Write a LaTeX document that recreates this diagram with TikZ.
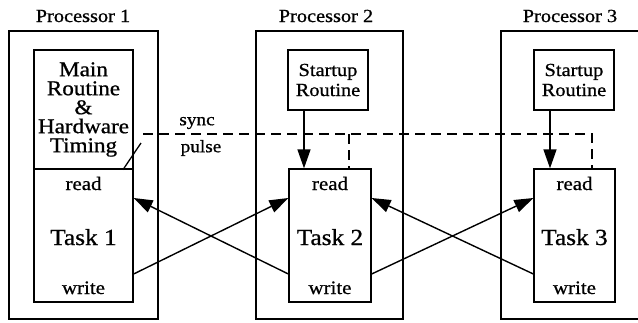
\documentclass[tikz,border=0pt]{standalone}
\usepackage{fontspec}
\setmainfont{Liberation Serif}[FakeStretch=1.1,FakeBold=0.8]
\usetikzlibrary{arrows.meta,calc}
\tikzset{
  box/.style={draw, line width=1.3pt, inner sep=0pt},
  lbl/.style={inner sep=0pt, font=\fontsize{18.5}{19}\selectfont},
  rw/.style={inner sep=0pt, anchor=base, font=\fontsize{19}{19}\selectfont},
  tsk/.style={inner sep=0pt, anchor=base, font=\fontsize{23}{23}\selectfont},
  arr/.style={line width=1.4pt, -{Triangle[length=19pt,width=13pt]}},
  syncline/.style={line width=1.4pt, dash pattern=on 10pt off 6pt},
}
\begin{document}
\begin{tikzpicture}[x=1pt,y=-1pt]
\useasboundingbox (0,0) rectangle (638,322);
\clip (0,0) rectangle (638,322);
% processor outlines
\node[box, minimum width=149pt, minimum height=288pt] (p1) at (83.5,175) {};
\node[box, minimum width=147pt, minimum height=288pt] (p2) at (329.5,175) {};
\node[box, minimum width=144pt, minimum height=288pt] (p3) at (573,175) {};
\node[lbl] (p1l) at (83,16) {Processor 1};
\node[lbl] (p2l) at (326,16) {Processor 2};
\node[lbl] (p3l) at (570,16) {Processor 3};
% main routine
\node[box, minimum width=99pt, minimum height=119pt, align=center,
      font=\fontsize{21}{19}\selectfont] (main) at (83.5,109.5)
      {Main\\Routine\\\&\\Hardware\\Timing};
% startup routines
\node[box, minimum width=80pt, minimum height=60pt, align=center,
      font=\fontsize{18.5}{20}\selectfont] (start2) at (328,80) {Startup\\Routine};
\node[box, minimum width=80pt, minimum height=60pt, align=center,
      font=\fontsize{18.5}{20}\selectfont] (start3) at (574,80) {Startup\\Routine};
% tasks
\node[box, minimum width=99pt, minimum height=133pt] (task1) at (83.5,235.5) {};
\node[box, minimum width=82pt, minimum height=133pt] (task2) at (330,235.5) {};
\node[box, minimum width=81pt, minimum height=133pt] (task3) at (574.5,235.5) {};
\foreach \t/\x/\n in {task1/83.5/1, task2/330/2, task3/574.5/3}{
  \node[rw] (\t r) at (\x,190) {read};
  \node[tsk] (\t n) at (\x,245) {Task \n};
  \node[rw] (\t w) at (\x,294) {write};
}
% startup arrows
\draw[arr] ([xshift=-24pt]start2.south) -- ([xshift=-24pt]start2.south |- task2.north);
\draw[arr] ([xshift=-24pt]start3.south) -- ([xshift=-24pt]start3.south |- task3.north);
% crossing arrows
\draw[arr] ([yshift=-38.5pt]task1.east) -- ([yshift=37.5pt]task2.west);
\draw[arr] ([yshift=-38.5pt]task2.west) -- ([yshift=37.5pt]task1.east);
\draw[arr] ([yshift=-38.5pt]task2.east) -- ([yshift=37.5pt]task3.west);
\draw[arr] ([yshift=-38.5pt]task3.west) -- ([yshift=37.5pt]task2.east);
% sync pulse
\coordinate (syncL) at (143,134);
\coordinate (T2) at ([xshift=19pt]task2.north);
\coordinate (T3) at ([xshift=17.5pt]task3.north);
\draw[syncline] (syncL) -- (syncL -| T3) -- (T3);
\draw[syncline] (T2 |- syncL) -- (T2);
\coordinate (diagA) at ([xshift=39.5pt]main.south);
\coordinate (diagB) at (141,143);
\draw[line width=1.3pt] (diagA) -- (diagB);
\node[inner sep=0pt, font=\fontsize{17.5}{17}\selectfont] (sync) at (197,123) {sync};
\node[inner sep=0pt, font=\fontsize{17.5}{17}\selectfont] (pulse) at (201,148) {pulse};
\end{tikzpicture}
\end{document}
